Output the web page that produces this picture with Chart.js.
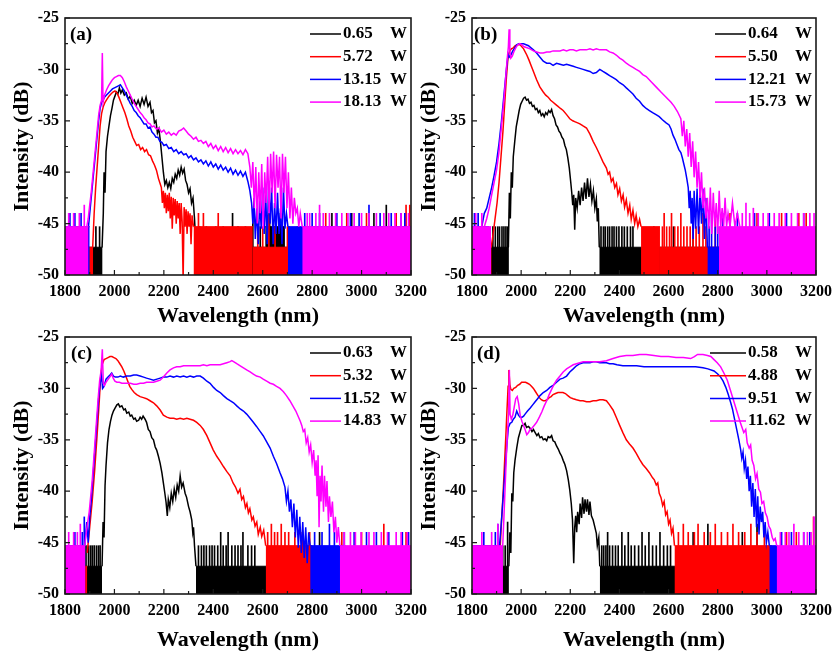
<!DOCTYPE html>
<html>
<head>
<meta charset="utf-8">
<script src="https://cdn.jsdelivr.net/npm/chart.js@4.4.1/dist/chart.umd.min.js"></script>
<style>
html, body { margin: 0; padding: 0; background: #fff; }
#wrap { position: relative; width: 839px; height: 651px; overflow: hidden; }
#wrap canvas { position: absolute; left: 0; top: 0; }
</style>
</head>
<body>
<div id="wrap">
  <canvas id="pa" width="839" height="651"></canvas>
  <canvas id="pb" width="839" height="651"></canvas>
  <canvas id="pc" width="839" height="651"></canvas>
  <canvas id="pd" width="839" height="651"></canvas>
</div>
<script>
// Spectra. Per series: _S = trace [nm, dB],
// _F = noise-floor bands [from, to, top dB], _P = single noise spikes [nm, dB].
// K = black, R = red, B = blue, M = magenta.

const X_MIN = 1800, X_MAX = 3200, X_STEP = 100, X_LABEL_STEP = 200;
const Y_MIN = -50, Y_MAX = -25, Y_STEP = 2.5, Y_LABEL_STEP = 5;
const X_TITLE = 'Wavelength (nm)';
const Y_TITLE = 'Intensity (dB)';
const UNIT = 'W';
const COLORS = ['#000000', '#ff0000', '#0000ff', '#ff00ff'];

// ---- (a)
const A_W = ['0.65', '5.72', '13.15', '18.13'];
const A_K_S = [[1950,-47.3],[1955,-44],[1958,-40],[1962,-42],[1966,-38],[1972,-36.5],[1978,-35.5],[1984,-34.5],[1990,-33.8],[1996,-33],[2002,-32.6],[2008,-32.2],[2014,-32.4],[2020,-31.8],[2026,-32.3],[2032,-32],[2040,-32.5],[2048,-32.3],[2056,-32.9],[2064,-32.6],[2072,-33.3],[2080,-33],[2088,-33.5],[2096,-33],[2104,-33.6],[2112,-32.8],[2120,-33.4],[2128,-32.7],[2136,-33.6],[2144,-33.2],[2150,-34.2],[2156,-34],[2162,-35.2],[2168,-35],[2174,-36.2],[2180,-35.8],[2186,-37],[2192,-38.5],[2198,-40],[2204,-41.2],[2210,-40.8],[2216,-41.5],[2222,-41],[2228,-41.6],[2234,-40.6],[2240,-41],[2246,-40.2],[2252,-40.6],[2258,-39.8],[2264,-40.3],[2270,-39.5],[2276,-40.1],[2282,-39.7],[2288,-40.8],[2294,-41.2],[2300,-42],[2306,-41.6],[2312,-43],[2318,-42.5],[2324,-44.5],[2330,-47.3]];
const A_K_F = [[1800,1952,-47.3],[2330,2610,-47.3],[2610,2690,-45.3],[2690,3200,-47.3]];
const A_K_P = [[1925,-45.3],[1940,-45.3],[2345,-45.3],[2372,-45.3],[2410,-45.3],[2440,-45.3],[2478,-44],[2500,-45.3],[2530,-45.3],[2560,-44],[2590,-45.3],[2628,-44],[2672,-44],[2705,-45.3],[2880,-44],[2960,-44],[3050,-44],[3100,-43.2]];
const A_R_S = [[1912,-47.3],[1918,-44],[1924,-41.5],[1930,-39.5],[1936,-37.5],[1942,-35.5],[1948,-34.3],[1955,-33.6],[1962,-33.2],[1970,-32.9],[1978,-32.6],[1986,-32.4],[1994,-32.2],[2002,-32.1],[2010,-32.3],[2018,-32.7],[2026,-33.2],[2034,-33.7],[2042,-34.2],[2050,-34.8],[2058,-35.5],[2066,-36],[2074,-36.6],[2082,-37],[2090,-37.4],[2098,-37.3],[2106,-37.8],[2114,-37.6],[2122,-38],[2130,-37.8],[2138,-38.3],[2146,-38.4],[2154,-38.9],[2162,-39.3],[2170,-39.8],[2178,-40.6],[2186,-41.2],[2190,-41.5],[2194,-43],[2198,-41.8],[2202,-43.5],[2206,-42],[2210,-44],[2214,-42.2],[2218,-43.8],[2222,-42],[2226,-44.5],[2230,-42.4],[2234,-45.5],[2238,-42.5],[2242,-44.2],[2246,-42.6],[2250,-45],[2254,-42.8],[2258,-44.5],[2262,-43],[2266,-46],[2270,-43],[2274,-44.8],[2278,-50.5],[2282,-43.4],[2286,-45.3],[2290,-43.6],[2294,-46],[2298,-43.8],[2302,-45.3],[2306,-44],[2310,-47],[2314,-44.2],[2320,-45.3]];
const A_R_F = [[1800,1914,-47.3],[2320,2560,-45.3],[2560,3200,-47.3]];
const A_R_P = [[2340,-44],[2360,-44],[2420,-44],[2580,-45.3],[2600,-45.3],[2625,-44],[2650,-45.3],[2700,-45.3],[2740,-45.3],[2855,-44],[2940,-44],[3020,-44],[3140,-44],[3180,-43.2],[3195,-43.2]];
const A_B_S = [[1895,-45.3],[1900,-44],[1906,-42.5],[1912,-41],[1918,-39.5],[1924,-38],[1930,-36.5],[1936,-35],[1942,-33.8],[1948,-33.2],[1954,-33],[1960,-32.7],[1968,-32.5],[1976,-32.3],[1984,-32.1],[1992,-31.9],[2000,-31.8],[2008,-31.7],[2016,-31.6],[2024,-31.5],[2032,-31.8],[2040,-32.1],[2048,-32.5],[2056,-32.9],[2064,-33.3],[2072,-33.6],[2080,-34],[2088,-34.2],[2096,-34.5],[2104,-34.7],[2112,-35],[2120,-35.3],[2128,-35.3],[2136,-35.7],[2144,-35.6],[2152,-36.1],[2160,-36.3],[2168,-36.6],[2176,-36.6],[2184,-37],[2192,-37.1],[2200,-37.4],[2210,-37.3],[2220,-37.7],[2230,-37.6],[2240,-38],[2250,-37.8],[2260,-38.2],[2270,-38],[2280,-38.3],[2290,-38.2],[2300,-38.6],[2310,-38.4],[2320,-38.8],[2330,-38.6],[2340,-39],[2350,-38.8],[2360,-39.2],[2370,-38.9],[2380,-39.4],[2390,-39],[2400,-39.5],[2410,-39.2],[2420,-39.7],[2430,-39.3],[2440,-39.8],[2450,-39.5],[2460,-40],[2470,-39.6],[2480,-40.2],[2490,-39.8],[2500,-40.3],[2510,-39.9],[2520,-40.4],[2530,-40],[2540,-40.9],[2548,-41.8],[2555,-43],[2560,-45],[2565,-42.5],[2570,-46.5],[2576,-43.5],[2582,-47],[2588,-42.8],[2594,-45.5],[2600,-41.5],[2606,-46],[2612,-42],[2618,-47],[2624,-40.8],[2630,-45],[2636,-41.5],[2642,-47],[2648,-43],[2654,-46],[2660,-42],[2666,-46],[2672,-43.5],[2678,-47],[2684,-41.5],[2690,-45.5],[2696,-44],[2702,-45.3]];
const A_B_F = [[1800,1900,-45.3],[2702,3200,-45.3]];
const A_B_P = [[1820,-44],[1840,-44],[1865,-44],[2770,-44],[2800,-44],[2830,-44],[2900,-44],[2955,-44],[2990,-44],[3030,-43.2],[3075,-44],[3120,-44],[3160,-44],[3175,-44]];
const A_M_S = [[1888,-45.3],[1894,-44.5],[1900,-43.2],[1906,-42],[1912,-40.5],[1918,-39],[1924,-37.5],[1930,-36],[1936,-34.5],[1942,-33.5],[1948,-33],[1951,-28.4],[1954,-33.2],[1960,-32.5],[1968,-32],[1976,-31.6],[1984,-31.3],[1992,-31],[2000,-30.8],[2008,-30.7],[2016,-30.6],[2024,-30.6],[2032,-30.8],[2040,-31.2],[2048,-31.7],[2056,-32.1],[2064,-32.5],[2072,-32.9],[2080,-33.3],[2088,-33.6],[2096,-33.9],[2104,-34.2],[2112,-34.4],[2120,-34.7],[2128,-34.9],[2136,-35.2],[2144,-35.3],[2152,-35.6],[2160,-35.5],[2170,-35.8],[2180,-35.7],[2190,-36.1],[2200,-35.9],[2210,-36.3],[2220,-36.1],[2230,-36.4],[2240,-36.2],[2250,-36.4],[2260,-36],[2270,-35.9],[2280,-35.7],[2290,-36],[2300,-36.3],[2310,-36.5],[2320,-36.8],[2330,-36.6],[2340,-37],[2350,-36.9],[2360,-37.2],[2370,-37],[2380,-37.5],[2390,-37.2],[2400,-37.7],[2410,-37.4],[2420,-37.9],[2430,-37.5],[2440,-38],[2450,-37.6],[2460,-38.1],[2470,-37.7],[2480,-38.2],[2490,-37.8],[2500,-38.2],[2510,-37.9],[2520,-38.3],[2530,-37.8],[2540,-38.2],[2548,-39.5],[2554,-41.5],[2560,-39],[2566,-43.5],[2572,-39.5],[2578,-45],[2584,-40],[2590,-44],[2596,-39.2],[2602,-45.5],[2608,-40],[2614,-43],[2620,-38.5],[2626,-44],[2632,-38.2],[2638,-42],[2644,-38],[2650,-43.5],[2656,-38.3],[2662,-41.5],[2668,-38.5],[2674,-44.5],[2680,-38.2],[2686,-42],[2692,-38.5],[2698,-43.5],[2704,-40],[2710,-44.5],[2716,-41.5],[2722,-45],[2728,-42.5],[2734,-44],[2740,-43.5],[2746,-45.3],[2752,-44],[2760,-45.3]];
const A_M_F = [[1800,1895,-45.3],[2760,3200,-45.3]];
const A_M_P = [[1815,-44],[1835,-44],[1858,-44],[1878,-43.2],[2780,-44],[2790,-44],[2815,-44],[2830,-43.2],[2845,-44],[2870,-44],[2895,-44],[2920,-44],[2945,-44],[2970,-44],[3000,-44],[3030,-44],[3060,-44],[3090,-44],[3110,-44],[3135,-44],[3160,-44],[3190,-44]];

// ---- (b)
const B_W = ['0.64', '5.50', '12.21', '15.73'];
const B_K_S = [[1948,-47.3],[1952,-42],[1956,-44.5],[1960,-40],[1964,-41.5],[1968,-38.5],[1974,-37],[1980,-35.6],[1986,-34.8],[1992,-34],[1998,-33.4],[2004,-33.1],[2010,-32.8],[2016,-32.7],[2022,-33],[2028,-32.9],[2034,-33.3],[2040,-33.2],[2046,-33.6],[2052,-33.5],[2058,-33.9],[2064,-33.8],[2070,-34.2],[2076,-34],[2082,-34.5],[2088,-34.3],[2094,-34.6],[2100,-34.2],[2106,-34.4],[2112,-34],[2118,-34.2],[2124,-33.9],[2130,-34.5],[2136,-34.8],[2142,-35.4],[2148,-35.6],[2154,-36],[2160,-36.2],[2166,-36.6],[2172,-36.8],[2178,-37.4],[2184,-37.8],[2190,-38.6],[2196,-39.6],[2202,-41],[2206,-42],[2210,-43.2],[2214,-42.2],[2218,-45.6],[2222,-42.5],[2228,-43.5],[2234,-41.8],[2240,-43.2],[2246,-41.5],[2252,-42.8],[2258,-41],[2264,-42.6],[2270,-40.6],[2276,-42.4],[2282,-41.2],[2288,-42.8],[2294,-41.8],[2300,-43.5],[2306,-42.6],[2310,-44.8],[2314,-43.5],[2318,-47.3]];
const B_K_F = [[1800,1950,-47.3],[2318,3200,-47.3]];
const B_K_P = [[1885,-45.3],[1895,-45.3],[1905,-45.3],[1912,-45.3],[1922,-45.3],[1930,-45.3],[1938,-45.3],[1945,-45.3],[2325,-45.3],[2335,-45.3],[2342,-45.3],[2352,-45.3],[2360,-45.3],[2370,-45.3],[2378,-45.3],[2388,-45.3],[2398,-45.3],[2410,-45.3],[2420,-45.3],[2432,-45.3],[2445,-45.3],[2455,-45.3],[2540,-45.3],[2620,-45.3],[2700,-44]];
const B_R_S = [[1878,-47.3],[1886,-46],[1894,-44.5],[1902,-43],[1910,-41],[1918,-38.5],[1926,-36],[1934,-33],[1940,-30.8],[1946,-29],[1952,-28.3],[1960,-28],[1968,-27.9],[1976,-27.7],[1986,-27.6],[1996,-27.6],[2010,-28],[2023,-28.6],[2032,-29.1],[2040,-29.6],[2050,-30.2],[2063,-31],[2076,-31.7],[2090,-32.2],[2100,-32.5],[2110,-32.7],[2120,-33],[2130,-33.2],[2140,-33.4],[2150,-33.6],[2160,-33.8],[2171,-34],[2185,-34.4],[2198,-34.8],[2210,-35],[2220,-35.1],[2230,-35.2],[2239,-35.3],[2252,-35.5],[2266,-35.7],[2280,-36.3],[2293,-37],[2306,-37.6],[2320,-38.3],[2333,-39],[2347,-39.6],[2354,-40.2],[2360,-40],[2367,-40.9],[2374,-40.6],[2381,-41.5],[2388,-41.1],[2394,-42.2],[2401,-41.6],[2408,-42.8],[2415,-42.2],[2421,-43.4],[2428,-42.7],[2435,-44],[2442,-43.2],[2448,-44.6],[2455,-43.7],[2462,-45],[2468,-44.2],[2475,-45.3],[2482,-44.6],[2488,-45.3]];
const B_R_F = [[1800,1880,-47.3],[2488,2565,-45.3],[2565,3200,-47.3]];
const B_R_P = [[2575,-45.3],[2582,-44],[2592,-45.3],[2604,-45.3],[2612,-44],[2625,-45.3],[2638,-45.3],[2650,-44],[2662,-45.3],[2675,-45.3],[2688,-45.3],[2700,-44],[2712,-45.3],[2725,-45.3],[2740,-44],[2752,-45.3],[2790,-44],[2850,-44],[2960,-44],[3060,-44],[3130,-44],[3160,-44]];
const B_B_S = [[1840,-45.3],[1850,-44],[1860,-43.5],[1870,-42.5],[1880,-41.5],[1890,-40.3],[1900,-39],[1910,-37.2],[1920,-35],[1930,-32.5],[1940,-30],[1947,-28.5],[1952,-28.8],[1958,-28.6],[1966,-28.2],[1974,-27.9],[1982,-27.6],[1990,-27.5],[2000,-27.5],[2010,-27.5],[2020,-27.6],[2030,-27.7],[2040,-27.9],[2050,-28.1],[2063,-28.4],[2076,-28.8],[2090,-29.2],[2104,-29.4],[2117,-29.4],[2130,-29.6],[2144,-29.4],[2158,-29.5],[2172,-29.6],[2185,-29.5],[2198,-29.6],[2212,-29.7],[2225,-29.8],[2239,-29.9],[2252,-30],[2266,-30.1],[2280,-30.2],[2293,-30.4],[2306,-30.3],[2320,-30],[2333,-30.2],[2347,-30.4],[2360,-30.6],[2374,-30.8],[2387,-31],[2401,-31.3],[2415,-31.5],[2428,-31.8],[2442,-32.1],[2455,-32.4],[2468,-32.8],[2482,-33.1],[2495,-33.5],[2509,-33.8],[2522,-34],[2535,-34.2],[2549,-34.4],[2562,-34.6],[2575,-34.9],[2590,-35.2],[2602,-35.4],[2610,-35.8],[2618,-36.4],[2626,-36.8],[2634,-37.3],[2642,-37.8],[2650,-38.1],[2656,-38.6],[2662,-39.2],[2668,-39.8],[2674,-40.6],[2680,-41.5],[2684,-43.5],[2688,-41.8],[2692,-45],[2696,-42.5],[2700,-46.5],[2704,-41.8],[2710,-45.5],[2716,-41.6],[2722,-46],[2728,-41.7],[2734,-45],[2740,-41.6],[2746,-46.5],[2752,-42.5],[2758,-47.3]];
const B_B_F = [[1800,1870,-45.3],[2758,3200,-47.3]];
const B_B_P = [[1810,-44],[1825,-44],[2765,-45.3],[2775,-44],[2790,-45.3],[2800,-45.3],[2820,-44],[2880,-44],[2950,-44],[3010,-44],[3080,-44],[3150,-44]];
const B_M_S = [[1850,-45.3],[1860,-44.5],[1870,-43.5],[1880,-42.2],[1890,-41],[1900,-39.8],[1910,-38],[1920,-35.5],[1930,-33],[1938,-30.5],[1944,-28.8],[1948,-27.8],[1951,-26.1],[1954,-28.2],[1958,-28.9],[1964,-28.7],[1970,-28.3],[1978,-27.9],[1986,-27.6],[1994,-27.5],[2002,-27.6],[2012,-27.8],[2024,-27.9],[2036,-28],[2050,-28.2],[2063,-28.3],[2077,-28.4],[2090,-28.4],[2104,-28.3],[2117,-28.3],[2130,-28.2],[2144,-28.2],[2158,-28.2],[2172,-28.1],[2185,-28.2],[2198,-28.1],[2212,-28.1],[2225,-28.2],[2239,-28.1],[2252,-28.1],[2266,-28.1],[2280,-28],[2293,-28.1],[2306,-28],[2320,-28.1],[2333,-28.1],[2347,-28.1],[2360,-28.3],[2374,-28.4],[2387,-28.6],[2401,-28.9],[2414,-29.1],[2428,-29.4],[2441,-29.6],[2455,-29.8],[2468,-30],[2482,-30.2],[2495,-30.5],[2509,-30.7],[2529,-31.2],[2549,-31.7],[2569,-32.2],[2590,-32.7],[2610,-33.2],[2623,-33.6],[2636,-34.1],[2650,-34.8],[2656,-36.5],[2662,-35],[2668,-37.5],[2674,-35.8],[2680,-38.5],[2686,-36.2],[2692,-39.5],[2698,-37],[2704,-40.5],[2710,-38],[2716,-41.5],[2722,-39],[2728,-42.5],[2734,-40],[2740,-43.5],[2746,-41.5],[2752,-44.5],[2758,-42.5],[2764,-45.5],[2770,-41.5],[2776,-46],[2782,-42],[2788,-45.3],[2794,-43],[2800,-46],[2806,-41.8],[2812,-45.3],[2818,-43.5],[2824,-45.3],[2830,-42.5],[2836,-45.3],[2842,-44],[2850,-45.3],[2860,-43],[2870,-45.3],[2880,-44],[2890,-45.3]];
const B_M_F = [[1800,1878,-45.3],[2805,3200,-45.3]];
const B_M_P = [[1815,-44],[1840,-44],[2900,-44],[2915,-43],[2930,-44],[2945,-43.5],[2965,-44],[2985,-44],[3005,-44],[3030,-44],[3050,-44],[3075,-44],[3100,-44],[3125,-44],[3150,-44],[3175,-44],[3192,-44]];

// ---- (c)
const C_W = ['0.63', '5.32', '11.52', '14.83'];
const C_K_S = [[1950,-47.3],[1954,-43],[1958,-44.5],[1962,-39.5],[1966,-37.5],[1972,-35.3],[1978,-34],[1984,-33.2],[1990,-32.6],[1996,-32.2],[2003,-31.9],[2010,-31.6],[2016,-31.5],[2022,-31.8],[2030,-31.7],[2038,-32.1],[2044,-32],[2050,-32.4],[2058,-32.3],[2064,-32.7],[2070,-32.6],[2078,-33],[2084,-32.9],[2090,-33.2],[2098,-33.1],[2104,-32.8],[2110,-33],[2116,-32.7],[2124,-33],[2130,-33.3],[2137,-34],[2144,-34.2],[2151,-34.8],[2158,-35],[2165,-35.7],[2171,-36],[2178,-36.6],[2185,-37.3],[2192,-38.2],[2198,-39.2],[2204,-40.2],[2209,-41.1],[2214,-42.4],[2218,-40.8],[2224,-41.6],[2230,-40.2],[2236,-41],[2242,-39.8],[2248,-40.6],[2254,-39.4],[2260,-40],[2266,-38.5],[2272,-39.6],[2278,-39.2],[2286,-40.2],[2292,-40.6],[2300,-41.5],[2306,-42],[2313,-42.8],[2317,-44],[2320,-43.5],[2324,-45.3],[2330,-47.3]];
const C_K_F = [[1800,1950,-47.3],[2330,3200,-47.3]];
const C_K_P = [[1885,-45.3],[1895,-45.3],[1903,-45.3],[1910,-45.3],[1918,-45.3],[1927,-45.3],[1935,-45.3],[1942,-45.3],[2340,-45.3],[2352,-45.3],[2362,-45.3],[2372,-45.3],[2385,-45.3],[2395,-45.3],[2405,-45.3],[2418,-45.3],[2430,-44],[2440,-45.3],[2452,-45.3],[2460,-44],[2475,-45.3],[2488,-45.3],[2500,-45.3],[2512,-45.3],[2520,-44],[2540,-45.3],[2555,-45.3],[2568,-45.3],[2830,-44]];
const C_R_S = [[1890,-46],[1900,-43.5],[1910,-41],[1920,-38],[1930,-34.5],[1938,-31.5],[1944,-29],[1950,-27.7],[1958,-27.2],[1966,-27.1],[1974,-27],[1982,-26.9],[1990,-26.9],[1998,-27],[2006,-27.1],[2014,-27.3],[2022,-27.6],[2030,-27.9],[2038,-28.3],[2046,-28.8],[2054,-29.3],[2062,-29.8],[2070,-30.1],[2080,-30.4],[2090,-30.6],[2104,-30.8],[2117,-30.9],[2130,-31],[2144,-31.2],[2158,-31.4],[2171,-31.7],[2185,-32.1],[2198,-32.6],[2212,-32.8],[2225,-32.9],[2240,-32.9],[2252,-33],[2266,-32.9],[2280,-33],[2293,-32.9],[2306,-33],[2320,-33.1],[2333,-33.3],[2347,-33.6],[2360,-34],[2374,-34.6],[2387,-35.3],[2400,-36],[2414,-36.6],[2428,-37.1],[2441,-37.6],[2455,-38.1],[2468,-38.5],[2480,-39.2],[2490,-39.6],[2500,-40.2],[2508,-39.8],[2515,-40.8],[2522,-40.5],[2530,-41.6],[2536,-41.2],[2542,-42.1],[2548,-41.7],[2556,-42.8],[2562,-42.5],[2569,-43.4],[2576,-43],[2582,-44.2],[2590,-43.5],[2596,-44.4],[2604,-43.8],[2612,-45.3]];
const C_R_F = [[1800,1890,-47.3],[2612,2800,-45.3],[2800,3200,-47.3]];
const C_R_P = [[2620,-44],[2635,-43.2],[2648,-44],[2660,-44],[2675,-43.2],[2690,-44],[2705,-44],[2730,-44],[2760,-44],[2790,-44],[2920,-44],[3000,-44],[3090,-43.2],[3180,-44]];
const C_B_S = [[1880,-45.3],[1888,-43],[1894,-45],[1900,-42.5],[1906,-41],[1912,-39],[1918,-37],[1924,-35],[1930,-33],[1936,-31],[1942,-29.5],[1948,-28.7],[1952,-30],[1958,-29.8],[1966,-29.1],[1974,-28.9],[1982,-28.7],[1989,-28.5],[1996,-28.8],[2004,-28.9],[2014,-28.9],[2024,-28.8],[2036,-28.9],[2050,-28.8],[2064,-28.8],[2078,-28.7],[2090,-28.7],[2104,-28.8],[2118,-28.9],[2130,-29],[2144,-29.1],[2158,-29.2],[2172,-29.1],[2185,-29],[2198,-28.9],[2212,-28.9],[2225,-28.8],[2239,-28.9],[2252,-28.8],[2266,-28.9],[2280,-28.8],[2293,-28.9],[2306,-28.8],[2320,-28.9],[2333,-28.8],[2347,-28.8],[2360,-29],[2374,-29.3],[2387,-29.5],[2401,-29.9],[2414,-30.2],[2428,-30.4],[2441,-30.7],[2455,-31],[2468,-31.2],[2482,-31.4],[2495,-31.7],[2509,-32],[2522,-32.2],[2535,-32.5],[2549,-32.9],[2562,-33.3],[2575,-33.7],[2590,-34.2],[2602,-34.6],[2616,-35.2],[2630,-35.8],[2643,-36.6],[2656,-37.3],[2670,-38.2],[2680,-38.8],[2690,-39.6],[2696,-41],[2702,-40],[2708,-42],[2714,-40.8],[2720,-43.5],[2726,-41.2],[2732,-44.5],[2738,-41.8],[2744,-45.5],[2750,-42.5],[2756,-46],[2762,-43],[2768,-46.5],[2774,-43.5],[2780,-47],[2786,-44],[2792,-45.3]];
const C_B_F = [[1800,1882,-45.3],[2792,2935,-45.3],[2935,3200,-47.3]];
const C_B_P = [[1840,-44],[1870,-44],[1878,-42.5],[2810,-44],[2840,-44],[2870,-43.2],[2890,-44],[2930,-44],[2970,-44],[3020,-44],[3060,-44],[3110,-44],[3165,-44],[3190,-44]];
const C_M_S = [[1880,-45.3],[1886,-44],[1892,-43],[1898,-42],[1904,-40.5],[1910,-39],[1916,-37],[1922,-35],[1928,-33],[1934,-31],[1940,-29.3],[1946,-28.3],[1951,-26.2],[1955,-29.5],[1960,-29.7],[1966,-29.4],[1972,-29.2],[1978,-29],[1984,-28.8],[1989,-28.6],[1995,-29],[2002,-29.3],[2010,-29.4],[2020,-29.4],[2030,-29.5],[2040,-29.5],[2050,-29.5],[2064,-29.5],[2078,-29.6],[2090,-29.6],[2104,-29.5],[2118,-29.5],[2130,-29.4],[2144,-29.4],[2158,-29.4],[2171,-29.3],[2185,-29.2],[2198,-28.9],[2212,-28.5],[2225,-28.2],[2239,-28],[2252,-27.9],[2266,-27.9],[2280,-27.8],[2293,-27.8],[2306,-27.8],[2320,-27.8],[2333,-27.8],[2347,-27.8],[2360,-27.7],[2374,-27.8],[2387,-27.7],[2401,-27.7],[2414,-27.7],[2428,-27.7],[2441,-27.6],[2455,-27.5],[2468,-27.4],[2475,-27.3],[2482,-27.4],[2495,-27.6],[2509,-27.8],[2522,-28],[2535,-28.2],[2549,-28.4],[2562,-28.6],[2575,-28.8],[2590,-28.9],[2602,-29.1],[2616,-29.3],[2630,-29.5],[2643,-29.6],[2656,-29.8],[2670,-30],[2683,-30.3],[2696,-30.7],[2710,-31.2],[2722,-31.7],[2734,-32.2],[2745,-32.8],[2752,-33.2],[2758,-33.6],[2764,-34.2],[2770,-34],[2776,-35.3],[2782,-34.8],[2788,-36.2],[2794,-35.5],[2800,-37.2],[2806,-36],[2812,-38.5],[2816,-37],[2820,-40.5],[2824,-36.5],[2828,-43.5],[2832,-38.5],[2836,-41],[2840,-37.5],[2846,-42],[2850,-38.5],[2856,-41.5],[2860,-39],[2866,-43],[2870,-40.5],[2876,-42.5],[2882,-41],[2888,-44],[2894,-42.5],[2900,-45],[2906,-43.5],[2912,-45.3]];
const C_M_F = [[1800,1882,-45.3],[2912,3200,-45.3]];
const C_M_P = [[1815,-44],[1835,-44],[1850,-44],[1862,-43.2],[2930,-44],[2955,-44],[2975,-44],[2998,-44],[3030,-44],[3050,-44],[3080,-44],[3105,-44],[3140,-44],[3160,-44],[3185,-44]];

// ---- (d)
const D_W = ['0.58', '4.88', '9.51', '11.62'];
const D_K_S = [[1950,-47.3],[1954,-44],[1958,-46],[1962,-40.2],[1966,-41],[1970,-38.2],[1975,-37],[1982,-35.8],[1989,-34.8],[1996,-34.2],[2003,-33.6],[2010,-33.6],[2016,-33.4],[2022,-33.8],[2030,-33.7],[2037,-33.9],[2044,-34.2],[2050,-34],[2057,-34.3],[2064,-34.6],[2070,-34.4],[2077,-34.8],[2084,-34.7],[2090,-35],[2097,-34.9],[2104,-35.1],[2110,-34.7],[2117,-34.8],[2124,-34.6],[2130,-35.1],[2137,-35.2],[2144,-35.6],[2151,-35.9],[2158,-36.3],[2165,-36.6],[2171,-37],[2178,-37.4],[2185,-38],[2192,-38.9],[2198,-39.9],[2204,-41.2],[2209,-42.8],[2214,-47],[2218,-43.5],[2222,-42.4],[2226,-44],[2230,-42],[2236,-43.2],[2240,-41.2],[2246,-42.6],[2250,-40.6],[2256,-42.2],[2260,-40.8],[2266,-42],[2270,-40.8],[2276,-42.3],[2280,-41],[2286,-42.4],[2293,-42.8],[2300,-43.5],[2306,-44.1],[2310,-45.3],[2316,-44.5],[2320,-47.3]];
const D_K_F = [[1800,1950,-47.3],[2320,3200,-47.3]];
const D_K_P = [[1925,-45.3],[1935,-45.3],[1945,-43],[2328,-45.3],[2336,-45.3],[2345,-45.3],[2352,-44],[2360,-45.3],[2372,-45.3],[2384,-45.3],[2395,-45.3],[2410,-44],[2422,-45.3],[2436,-44],[2448,-45.3],[2462,-45.3],[2478,-45.3],[2492,-44],[2505,-45.3],[2520,-44],[2535,-45.3],[2550,-45.3],[2565,-44],[2580,-45.3],[2595,-45.3],[2608,-45.3],[2700,-44],[2760,-43.2],[2900,-44],[2960,-43.2]];
const D_R_S = [[1915,-45.3],[1920,-43],[1926,-40.5],[1932,-37.5],[1938,-34.5],[1943,-31.8],[1947,-29.8],[1950,-28.2],[1954,-29.6],[1958,-30.1],[1964,-30.2],[1970,-30],[1978,-29.9],[1986,-29.7],[1994,-29.6],[2002,-29.4],[2010,-29.4],[2018,-29.4],[2026,-29.5],[2034,-29.6],[2042,-29.8],[2050,-30],[2058,-30.3],[2066,-30.6],[2074,-30.9],[2082,-31.1],[2090,-31.2],[2098,-31.2],[2106,-31.1],[2114,-30.9],[2122,-30.8],[2130,-30.6],[2140,-30.5],[2150,-30.4],[2160,-30.4],[2170,-30.4],[2180,-30.5],[2190,-30.7],[2200,-30.9],[2212,-31],[2225,-31.1],[2240,-31.2],[2252,-31.2],[2266,-31.3],[2280,-31.3],[2293,-31.2],[2306,-31.2],[2320,-31.1],[2333,-31.1],[2347,-31.2],[2360,-31.6],[2374,-32.1],[2387,-32.8],[2401,-33.6],[2414,-34.3],[2428,-35],[2441,-35.4],[2455,-35.8],[2468,-36.3],[2482,-36.9],[2495,-37.4],[2509,-37.8],[2522,-38.2],[2535,-38.7],[2542,-38.9],[2550,-39.4],[2556,-39.2],[2562,-40.2],[2569,-40.6],[2576,-41.4],[2582,-41],[2588,-42.3],[2594,-42],[2600,-43.2],[2606,-42.8],[2612,-44.1],[2618,-43.6],[2624,-45.3]];
const D_R_F = [[1800,1916,-45.3],[2624,3020,-45.3],[3020,3200,-47.3]];
const D_R_P = [[2640,-44],[2660,-43.2],[2680,-44],[2705,-44],[2720,-43.2],[2745,-44],[2770,-44],[2790,-43.2],[2815,-44],[2840,-44],[2862,-43.2],[2885,-44],[2910,-44],[2935,-43.2],[2960,-44],[2990,-44],[3080,-44],[3120,-44],[3190,-42.5]];
const D_B_S = [[1912,-45.3],[1918,-43.5],[1924,-41.5],[1930,-39.5],[1936,-37.5],[1942,-35.5],[1948,-33.8],[1955,-33.4],[1962,-33.3],[1968,-33],[1975,-32.8],[1982,-32.2],[1989,-32.6],[1996,-32.8],[2004,-32.8],[2010,-32.7],[2016,-32.5],[2026,-32.2],[2037,-31.9],[2047,-31.6],[2057,-31.3],[2067,-31],[2077,-30.7],[2090,-30.4],[2104,-30.2],[2117,-29.9],[2130,-29.7],[2144,-29.4],[2158,-29.1],[2171,-29],[2185,-28.8],[2198,-28.4],[2212,-28.1],[2225,-27.8],[2239,-27.6],[2252,-27.5],[2266,-27.5],[2280,-27.5],[2293,-27.4],[2306,-27.4],[2320,-27.5],[2333,-27.5],[2347,-27.5],[2360,-27.6],[2374,-27.6],[2390,-27.7],[2414,-27.8],[2440,-27.8],[2470,-27.8],[2500,-27.9],[2530,-27.9],[2560,-27.9],[2590,-27.9],[2620,-27.9],[2650,-27.9],[2680,-27.9],[2710,-27.9],[2740,-28],[2760,-28.1],[2785,-28.3],[2800,-28.6],[2812,-28.9],[2822,-29.3],[2833,-29.9],[2843,-30.6],[2853,-31.4],[2860,-32],[2866,-32.7],[2873,-33.5],[2880,-34.3],[2886,-35],[2893,-35.9],[2898,-36.8],[2903,-36.2],[2908,-37.8],[2913,-37],[2918,-38.8],[2923,-37.6],[2928,-40],[2933,-38.5],[2938,-41.5],[2943,-39.2],[2948,-42.5],[2953,-39.8],[2958,-43.5],[2963,-40.5],[2968,-44.2],[2973,-41.5],[2978,-43],[2983,-42],[2988,-44.5],[2993,-43],[2998,-45],[3004,-44],[3010,-45.3]];
const D_B_F = [[1800,1914,-45.3],[3010,3045,-45.3],[3045,3200,-47.3]];
const D_B_P = [[1848,-44],[1870,-45.3],[1895,-44],[1905,-43.2],[3060,-44],[3100,-44],[3150,-44],[3175,-44]];
const D_M_S = [[1925,-45.3],[1930,-42.5],[1935,-39.5],[1940,-36.5],[1945,-34],[1949,-32.5],[1952,-28.2],[1955,-32.5],[1960,-33],[1966,-32.6],[1972,-31.8],[1978,-31],[1984,-30.8],[1990,-31.5],[1996,-32.6],[2003,-33.2],[2010,-33.6],[2016,-34],[2023,-34.5],[2030,-34.3],[2036,-34],[2043,-33.9],[2053,-33.6],[2063,-33.3],[2074,-32.8],[2084,-32.3],[2094,-31.7],[2104,-31.2],[2114,-30.6],[2124,-30.1],[2134,-29.6],[2144,-29.2],[2158,-28.8],[2171,-28.4],[2185,-28.1],[2198,-27.9],[2212,-27.7],[2225,-27.6],[2239,-27.5],[2252,-27.4],[2270,-27.4],[2293,-27.4],[2320,-27.4],[2347,-27.3],[2374,-27.1],[2401,-26.9],[2428,-26.8],[2455,-26.8],[2482,-26.7],[2509,-26.7],[2540,-26.8],[2569,-26.9],[2600,-26.9],[2630,-27],[2660,-27],[2690,-27.1],[2705,-26.9],[2718,-26.7],[2740,-26.7],[2758,-26.8],[2772,-26.9],[2785,-27.2],[2798,-27.5],[2812,-27.9],[2825,-28.5],[2839,-29.2],[2852,-30.2],[2866,-31.3],[2880,-32.4],[2893,-33.4],[2906,-34.3],[2914,-34],[2920,-35.3],[2928,-35.8],[2934,-35.5],[2940,-37],[2947,-37.5],[2954,-38.8],[2960,-38.3],[2967,-39.8],[2974,-40.1],[2980,-41.2],[2987,-41],[2994,-42.1],[3001,-42.5],[3008,-43.4],[3015,-43.7],[3022,-44.5],[3028,-44.8],[3034,-44.6],[3040,-45.3]];
const D_M_F = [[1800,1926,-45.3],[3040,3200,-45.3]];
const D_M_P = [[1840,-44],[1880,-44],[1905,-43.2],[3055,-44],[3075,-44],[3090,-44],[3110,-43.2],[3130,-44],[3150,-44],[3165,-44],[3180,-44],[3192,-42.5]];

const SERIF = "'Liberation Serif', 'Times New Roman', serif";

// frame, inward ticks, legend, panel tag and axis titles
const decor = {
    id: 'decor',
    afterDraw(chart, args, o) {
        const { ctx, chartArea: a, scales: { x, y } } = chart;
        ctx.save();
        ctx.strokeStyle = '#1a1a1a';
        ctx.lineWidth = 1.2;
        ctx.beginPath();
        x.ticks.forEach(t => {
            const px = x.getPixelForValue(t.value);
            const len = t.value % X_LABEL_STEP === 0 ? 5 : 3;
            ctx.moveTo(px, a.bottom);
            ctx.lineTo(px, a.bottom - len);
        });
        y.ticks.forEach(t => {
            const py = y.getPixelForValue(t.value);
            const len = t.value % Y_LABEL_STEP === 0 ? 5 : 3;
            ctx.moveTo(a.left, py);
            ctx.lineTo(a.left + len, py);
        });
        ctx.stroke();
        ctx.lineWidth = 1.6;
        ctx.strokeRect(a.left, a.top, a.right - a.left, a.bottom - a.top);

        // legend
        ctx.textBaseline = 'middle';
        ctx.font = `bold 17px ${SERIF}`;
        o.powers.forEach((p, i) => {
            const yy = a.top + 16 + i * 22.7;
            ctx.strokeStyle = COLORS[i];
            ctx.lineWidth = 1.5;
            ctx.beginPath();
            ctx.moveTo(a.right - o.legLine, yy);
            ctx.lineTo(a.right - 70, yy);
            ctx.stroke();
            ctx.fillStyle = '#000';
            ctx.textAlign = 'left';
            ctx.fillText(p, a.right - 68, yy);
            ctx.textAlign = 'right';
            ctx.fillText(UNIT, a.right - 4, yy);
        });

        ctx.fillStyle = '#000';
        ctx.textAlign = 'left';
        ctx.font = `bold 19px ${SERIF}`;
        ctx.fillText(o.tag, a.left + o.tagDx, a.top + 17);

        ctx.font = `bold 22px ${SERIF}`;
        ctx.textAlign = 'center';
        ctx.fillText(X_TITLE, (a.left + a.right) / 2, a.bottom + o.titleGap);
        ctx.translate(a.left - 43, (a.top + a.bottom) / 2);
        ctx.rotate(-Math.PI / 2);
        ctx.fillText(Y_TITLE, 0, 0);
        ctx.restore();
    }
};

function seriesSets(sig, floor, spikes, i) {
    const c = COLORS[i];
    const order = 4 - i;   // magenta last = on top
    const floorPts = [];
    floor.forEach(([x0, x1, top]) => {
        floorPts.push({ x: x0, y: top }, { x: x1, y: top }, { x: x1, y: null });
    });
    return [
        { type: 'line', data: sig.map(([x, y]) => ({ x, y })), borderColor: c, borderWidth: 1.5,
          pointRadius: 0, fill: false, order },
        { type: 'line', data: floorPts, borderColor: c, backgroundColor: c, borderWidth: 1,
          pointRadius: 0, fill: 'start', spanGaps: false, order },
        { type: 'bar', data: spikes.map(([x, y]) => ({ x, y: [Y_MIN, y] })), backgroundColor: c,
          barThickness: 1, grouped: false, order }
    ];
}

function makePanel(id, area, series, powers, tag, tagDx, titleGap, legLine) {
    const datasets = [];
    series.forEach((s, i) => datasets.push(...seriesSets(s[0], s[1], s[2], i)));
    const tickFont = { family: SERIF, size: 16, weight: 'bold' };
    new Chart(document.getElementById(id), {
        type: 'line',
        data: { datasets },
        options: {
            responsive: false,
            animation: false,
            events: [],
            layout: { padding: { left: area.l - 60, top: area.t, right: 839 - area.r, bottom: 651 - area.b - 30 } },
            scales: {
                x: {
                    type: 'linear', min: X_MIN, max: X_MAX, offset: false,
                    afterFit: s => { s.height = 30; },
                    grid: { display: false, drawTicks: false },
                    border: { display: false },
                    ticks: { stepSize: X_STEP, autoSkip: false, maxRotation: 0, padding: 7, color: '#000',
                             font: tickFont, callback: v => (v % X_LABEL_STEP === 0 ? v : '') }
                },
                y: {
                    type: 'linear', min: Y_MIN, max: Y_MAX,
                    afterFit: s => { s.width = 60; },
                    grid: { display: false, drawTicks: false },
                    border: { display: false },
                    ticks: { stepSize: Y_STEP, autoSkip: false, padding: 6, color: '#000',
                             font: tickFont, callback: v => (v % Y_LABEL_STEP === 0 ? v : '') }
                }
            },
            plugins: {
                legend: { display: false },
                tooltip: { enabled: false },
                decor: { powers, tag, tagDx, titleGap, legLine }
            }
        },
        plugins: [decor]
    });
}

makePanel('pa', { l: 65, t: 18, r: 411, b: 275 },
    [[A_K_S, A_K_F, A_K_P], [A_R_S, A_R_F, A_R_P], [A_B_S, A_B_F, A_B_P], [A_M_S, A_M_F, A_M_P]], A_W, '(a)', 5, 41, 101);
makePanel('pb', { l: 472, t: 18, r: 818, b: 275 },
    [[B_K_S, B_K_F, B_K_P], [B_R_S, B_R_F, B_R_P], [B_B_S, B_B_F, B_B_P], [B_M_S, B_M_F, B_M_P]], B_W, '(b)', 2, 41, 101);
makePanel('pc', { l: 65, t: 337, r: 411, b: 594 },
    [[C_K_S, C_K_F, C_K_P], [C_R_S, C_R_F, C_R_P], [C_B_S, C_B_F, C_B_P], [C_M_S, C_M_F, C_M_P]], C_W, '(c)', 6, 46, 101);
makePanel('pd', { l: 472, t: 337, r: 818, b: 594 },
    [[D_K_S, D_K_F, D_K_P], [D_R_S, D_R_F, D_R_P], [D_B_S, D_B_F, D_B_P], [D_M_S, D_M_F, D_M_P]], D_W, '(d)', 5, 46, 106);
</script>
</body>
</html>
